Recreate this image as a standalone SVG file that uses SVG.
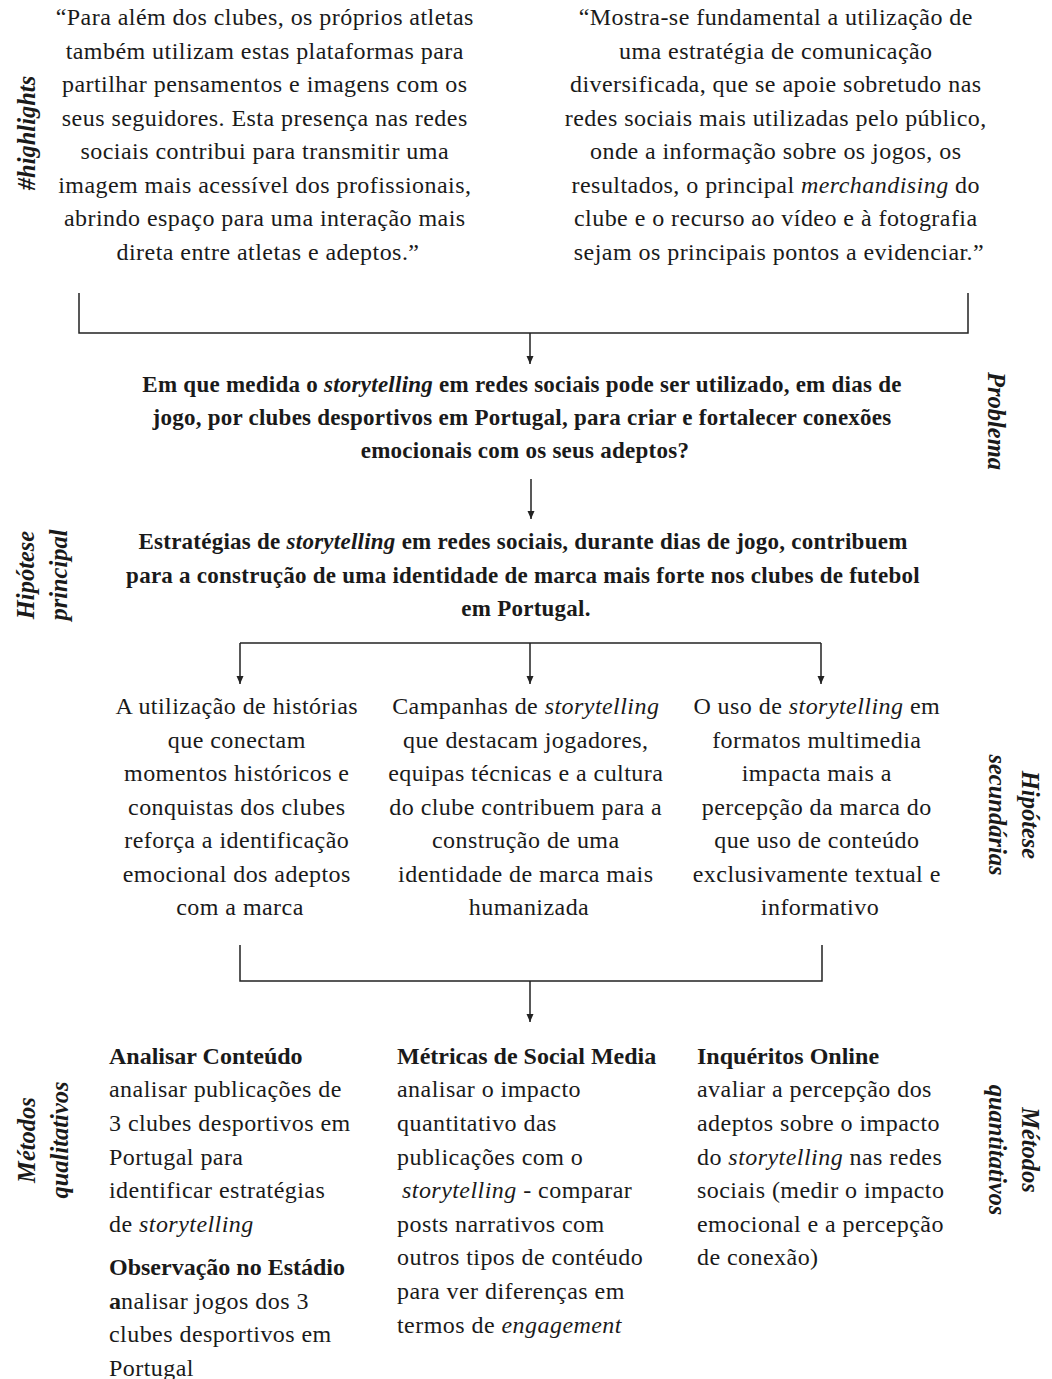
<svg xmlns="http://www.w3.org/2000/svg" width="1052" height="1379" viewBox="0 0 1052 1379">
<style>
text{font-family:"Liberation Serif","Times New Roman",serif;fill:#1a1a1a;}
.r{font-size:24px;letter-spacing:0.45px;}
.c{text-anchor:middle;}
.b{font-size:23px;letter-spacing:0.25px;font-weight:bold;text-anchor:middle;}
.s{font-size:24.5px;font-weight:bold;font-style:italic;text-anchor:middle;}
.i{font-style:italic;}
.hb{font-weight:bold;letter-spacing:0;}
.ln{fill:none;stroke:#222;stroke-width:1.5;}
</style>
<defs>
<marker id="ah" viewBox="0 0 8 8" refX="8" refY="4" markerWidth="8" markerHeight="8" markerUnits="userSpaceOnUse" orient="auto">
<path d="M0,0.5 L8,4 L0,7.5 z" fill="#222"/>
</marker>
</defs>
<rect width="1052" height="1379" fill="#fff"/>

<g id="side-labels">
<text class="s" transform="translate(35,133) rotate(-90)">#highlights</text>
<text class="s" transform="translate(988,421) rotate(90)">Problema</text>
<text class="s" transform="translate(34,575) rotate(-90)"><tspan x="0" y="0">Hipótese</tspan><tspan x="0" y="33">principal</tspan></text>
<text class="s" transform="translate(1022,815) rotate(90)"><tspan x="0" y="0">Hipótese</tspan><tspan x="0" y="33">secundárias</tspan></text>
<text class="s" transform="translate(35,1140) rotate(-90)"><tspan x="0" y="0">Métodos</tspan><tspan x="0" y="33">qualitativos</tspan></text>
<text class="s" transform="translate(1022,1150) rotate(90)"><tspan x="0" y="0">Métodos</tspan><tspan x="0" y="33">quantitativos</tspan></text>
</g>

<g id="quote-left">
<text class="r c">
<tspan x="268" y="25">“Para além dos clubes, os próprios atletas</tspan>
<tspan x="268" y="59">também utilizam estas plataformas para</tspan>
<tspan x="268" y="92">partilhar pensamentos e imagens com os</tspan>
<tspan x="268" y="126">seus seguidores. Esta presença nas redes</tspan>
<tspan x="268" y="159">sociais contribui para transmitir uma</tspan>
<tspan x="268" y="193">imagem mais acessível dos profissionais,</tspan>
<tspan x="268" y="226">abrindo espaço para uma interação mais</tspan>
<tspan x="268" y="260">direta entre atletas e adeptos.”</tspan>
</text>
</g>

<g id="quote-right">
<text class="r c">
<tspan x="779" y="25">“Mostra-se fundamental a utilização de</tspan>
<tspan x="779" y="59">uma estratégia de comunicação</tspan>
<tspan x="779" y="92">diversificada, que se apoie sobretudo nas</tspan>
<tspan x="779" y="126">redes sociais mais utilizadas pelo público,</tspan>
<tspan x="779" y="159">onde a informação sobre os jogos, os</tspan>
<tspan x="779" y="193">resultados, o principal <tspan class="i">merchandising</tspan> do</tspan>
<tspan x="779" y="226">clube e o recurso ao vídeo e à fotografia</tspan>
<tspan x="779" y="260">sejam os principais pontos a evidenciar.”</tspan>
</text>
</g>

<g id="problema">
<text class="b">
<tspan x="525" y="392">Em que medida o <tspan class="i">storytelling</tspan> em redes sociais pode ser utilizado, em dias de</tspan>
<tspan x="525" y="425">jogo, por clubes desportivos em Portugal, para criar e fortalecer conexões</tspan>
<tspan x="525" y="458">emocionais com os seus adeptos?</tspan>
</text>
</g>

<g id="hipotese-principal">
<text class="b">
<tspan x="526" y="549">Estratégias de <tspan class="i">storytelling</tspan> em redes sociais, durante dias de jogo, contribuem</tspan>
<tspan x="526" y="583">para a construção de uma identidade de marca mais forte nos clubes de futebol</tspan>
<tspan x="526" y="616">em Portugal.</tspan>
</text>
</g>

<g id="hs1">
<text class="r c">
<tspan x="240" y="714">A utilização de histórias</tspan>
<tspan x="240" y="748">que conectam</tspan>
<tspan x="240" y="781">momentos históricos e</tspan>
<tspan x="240" y="815">conquistas dos clubes</tspan>
<tspan x="240" y="848">reforça a identificação</tspan>
<tspan x="240" y="882">emocional dos adeptos</tspan>
<tspan x="240" y="915">com a marca</tspan>
</text>
</g>

<g id="hs2">
<text class="r c">
<tspan x="529" y="714">Campanhas de <tspan class="i">storytelling</tspan></tspan>
<tspan x="529" y="748">que destacam jogadores,</tspan>
<tspan x="529" y="781">equipas técnicas e a cultura</tspan>
<tspan x="529" y="815">do clube contribuem para a</tspan>
<tspan x="529" y="848">construção de uma</tspan>
<tspan x="529" y="882">identidade de marca mais</tspan>
<tspan x="529" y="915">humanizada</tspan>
</text>
</g>

<g id="hs3">
<text class="r c">
<tspan x="820" y="714">O uso de <tspan class="i">storytelling</tspan> em</tspan>
<tspan x="820" y="748">formatos multimedia</tspan>
<tspan x="820" y="781">impacta mais a</tspan>
<tspan x="820" y="815">percepção da marca do</tspan>
<tspan x="820" y="848">que uso de conteúdo</tspan>
<tspan x="820" y="882">exclusivamente textual e</tspan>
<tspan x="820" y="915">informativo</tspan>
</text>
</g>

<g id="m1">
<text class="r">
<tspan x="109" y="1064" class="hb">Analisar Conteúdo</tspan>
<tspan x="109" y="1097">analisar publicações de</tspan>
<tspan x="109" y="1131">3 clubes desportivos em</tspan>
<tspan x="109" y="1165">Portugal para</tspan>
<tspan x="109" y="1198">identificar estratégias</tspan>
<tspan x="109" y="1232">de <tspan class="i">storytelling</tspan></tspan>
<tspan x="109" y="1275" class="hb">Observação no Estádio</tspan>
<tspan x="109" y="1309"><tspan class="hb">a</tspan>nalisar jogos dos 3</tspan>
<tspan x="109" y="1342">clubes desportivos em</tspan>
<tspan x="109" y="1376">Portugal</tspan>
</text>
</g>

<g id="m2">
<text class="r">
<tspan x="397" y="1064" class="hb">Métricas de Social Media</tspan>
<tspan x="397" y="1097">analisar o impacto</tspan>
<tspan x="397" y="1131">quantitativo das</tspan>
<tspan x="397" y="1165">publicações com o</tspan>
<tspan x="402" y="1198"><tspan class="i">storytelling</tspan> - comparar</tspan>
<tspan x="397" y="1232">posts narrativos com</tspan>
<tspan x="397" y="1265">outros tipos de contéudo</tspan>
<tspan x="397" y="1299">para ver diferenças em</tspan>
<tspan x="397" y="1333">termos de <tspan class="i">engagement</tspan></tspan>
</text>
</g>

<g id="m3">
<text class="r">
<tspan x="697" y="1064" class="hb">Inquéritos Online</tspan>
<tspan x="697" y="1097">avaliar a percepção dos</tspan>
<tspan x="697" y="1131">adeptos sobre o impacto</tspan>
<tspan x="697" y="1165">do <tspan class="i">storytelling</tspan> nas redes</tspan>
<tspan x="697" y="1198">sociais (medir o impacto</tspan>
<tspan x="697" y="1232">emocional e a percepção</tspan>
<tspan x="697" y="1265">de conexão)</tspan>
</text>
</g>

<g id="connectors">
<path class="ln" d="M79,293 V333 H968 V293"/>
<path class="ln" d="M530,333 V364" marker-end="url(#ah)"/>
<path class="ln" d="M531,479 V519" marker-end="url(#ah)"/>
<path class="ln" d="M240,643 H821"/>
<path class="ln" d="M240,643 V684" marker-end="url(#ah)"/>
<path class="ln" d="M530,643 V684" marker-end="url(#ah)"/>
<path class="ln" d="M821,643 V684" marker-end="url(#ah)"/>
<path class="ln" d="M240,945 V981 H822 V945"/>
<path class="ln" d="M530,981 V1022" marker-end="url(#ah)"/>
</g>
</svg>
